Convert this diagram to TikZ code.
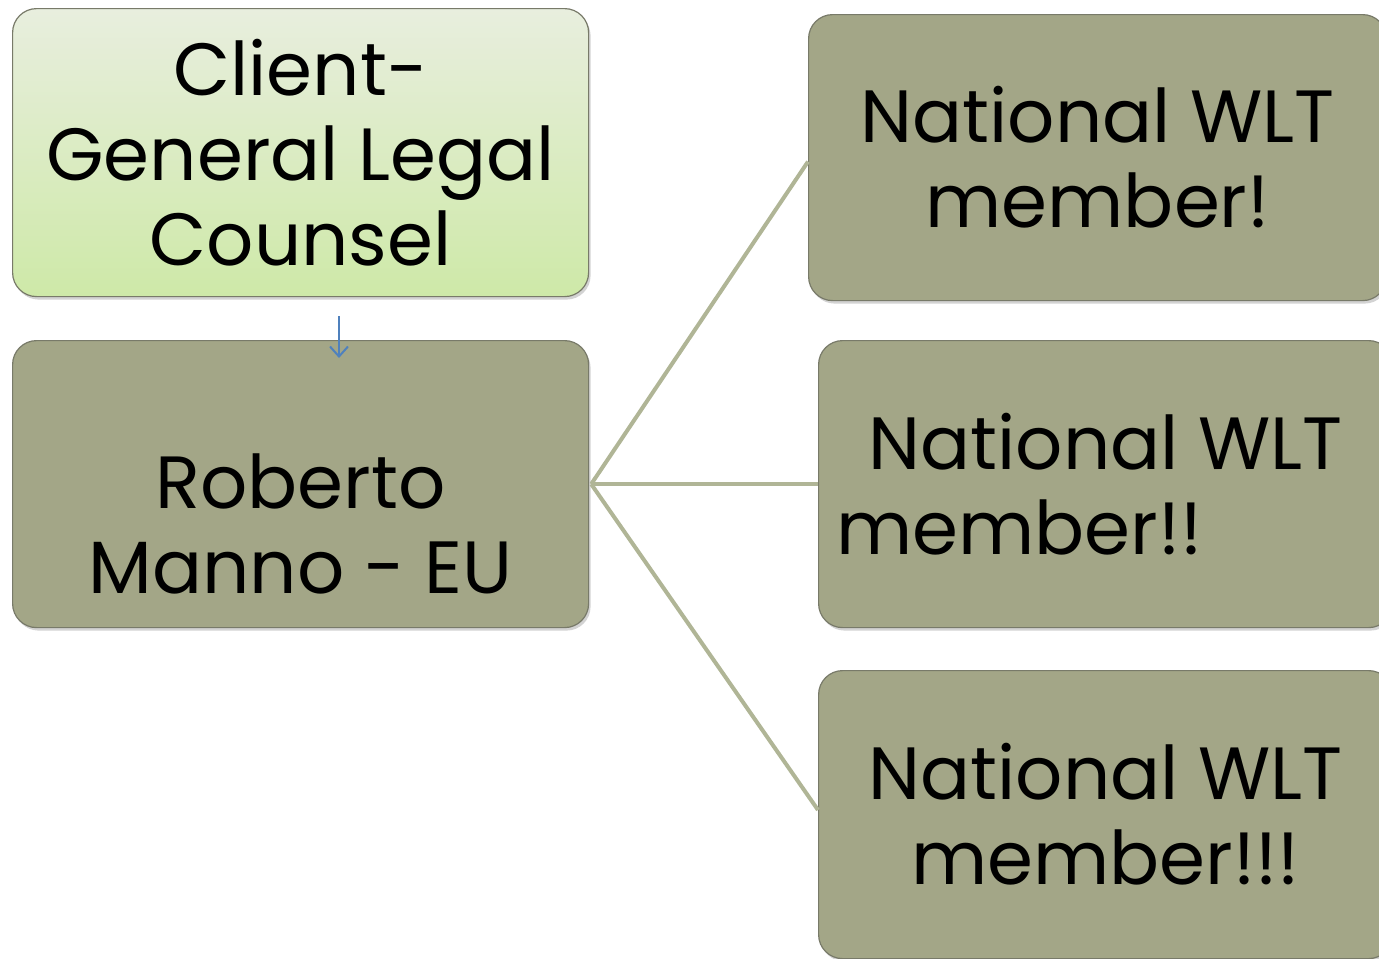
\documentclass[tikz,border=0pt]{standalone}
\usepackage{fontspec}
\setmainfont{Poppins}
\usetikzlibrary{shadows,arrows.meta}
\definecolor{olivefill}{RGB}{163,166,135}
\definecolor{oliveline}{RGB}{176,181,150}
\definecolor{boxedge}{RGB}{120,122,105}
\definecolor{greentop}{RGB}{232,238,222}
\definecolor{greenbot}{RGB}{206,233,168}
\definecolor{arrowblue}{RGB}{79,129,189}
\tikzset{
  box/.style={draw=boxedge, line width=0.6pt, rounded corners=12pt, anchor=north west,
    drop shadow={shadow xshift=1pt, shadow yshift=-1.5pt, opacity=0.35},
    font=\fontsize{37}{42.5}\selectfont, inner sep=0pt},
  olivebox/.style={box, fill=olivefill},
  greenbox/.style={box, top color=greentop, bottom color=greenbot},
  link/.style={draw=oliveline, line width=2pt},
  bigtext/.style={font=\fontsize{37}{42.5}\selectfont, align=center, inner sep=0pt}
}
\begin{document}
\begin{tikzpicture}[x=0.5pt,y=-0.5pt]
\useasboundingbox (0,0) rectangle (1379,958);
\clip (0,0) rectangle (1379,958);
\node[greenbox, minimum width=288pt, minimum height=144pt, align=center] (client) at (12,8) {Client-\\General Legal\\Counsel};
\node[olivebox, minimum width=288pt, minimum height=143.5pt] (rob) at (12,340) {};
\node[bigtext] (robt) at ([yshift=-20pt]rob.center) {Roberto\\Manno - EU};
\node[olivebox, minimum width=289pt, minimum height=143pt, align=center] (m1) at (808,14) {National WLT\\member!};
\node[olivebox, minimum width=287pt, minimum height=143.5pt, align=center] (m2) at (818,340) {National WLT\\\makebox[269pt][l]{member!!}};
\node[olivebox, minimum width=287pt, minimum height=144pt, align=center] (m3) at (818,670) {National WLT\\member!!!};
\coordinate (a1) at (339,316);
\coordinate (a2) at (339,358);
\draw[arrowblue, line width=1pt, -{Straight Barb[length=5pt,width=9pt]}] (a1) -- (a2);
\coordinate (hub) at ([xshift=1pt]rob.east);
\draw[link] (hub) -- ([yshift=-2pt]m1.west);
\draw[link] (hub) -- (m2.west);
\draw[link] (hub) -- ([yshift=-70pt]m3.north west);
\end{tikzpicture}
\end{document}
